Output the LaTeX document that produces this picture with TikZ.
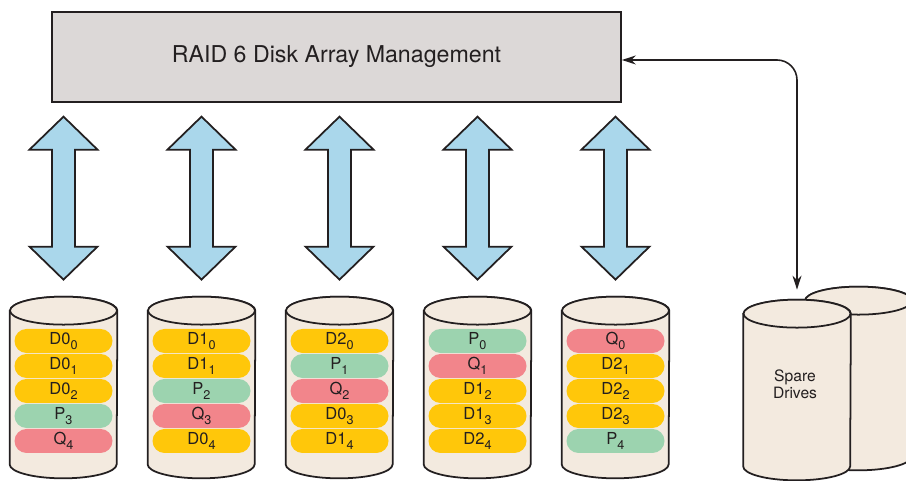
\documentclass[tikz,border=0pt]{standalone}
\usepackage{fontspec}
\setmainfont{TeX Gyre Heros}
\usetikzlibrary{positioning, calc, arrows.meta}

\definecolor{ink}{RGB}{35,31,32}
\definecolor{boxgray}{RGB}{220,216,215}
\definecolor{diskbeige}{RGB}{243,234,223}
\definecolor{busblue}{RGB}{170,215,235}
\definecolor{datayellow}{RGB}{255,199,10}
\definecolor{paritygreen}{RGB}{156,211,175}
\definecolor{parityred}{RGB}{242,133,139}

% strip index, set a little larger than \textsubscript
\newcommand{\stripidx}[1]{\raisebox{-0.5ex}{\fontsize{7.2}{8}\selectfont #1}}

\begin{document}
\begin{tikzpicture}[
            text=ink,
            % styles
            mgmt/.style={rectangle, draw=ink, line width=1pt, fill=boxgray, minimum width=11.38cm, minimum height=1.8cm, font=\fontsize{13.2}{16}\selectfont},
            diskarea/.style={rectangle, minimum width=2.14cm, inner sep=0pt},
            disk/.style={draw=ink, line width=1pt, fill=diskbeige},
            block/.style={rectangle, rounded corners=0.24cm, minimum width=1.96cm, minimum height=0.48cm, inner sep=0pt, font=\fontsize{9.4}{10}\selectfont},
            dblock/.style={block, fill=datayellow},
            pblock/.style={block, fill=paritygreen},
            qblock/.style={block, fill=parityred},
            bus/.style={draw=ink, line width=1pt, fill=busblue, line join=miter},
            link/.style={draw=ink, line width=0.9pt, rounded corners=0.4cm, {Stealth[length=2.8mm,width=1.8mm]}-{Stealth[length=2.8mm,width=1.8mm]}}
        ]
        \useasboundingbox (0,0) rectangle (18.12,9.62);

        % array management
        \node (mgmt) [mgmt] at (6.73,8.48) {RAID 6 Disk Array Management};

        % disks and spare drives
        \node (d1) [diskarea, minimum height=3.06cm] at (1.27,1.87) {};
        \node (d2) [diskarea, minimum height=3.06cm] at (4.03,1.87) {};
        \node (d3) [diskarea, minimum height=3.06cm] at (6.79,1.87) {};
        \node (d4) [diskarea, minimum height=3.06cm] at (9.55,1.87) {};
        \node (d5) [diskarea, minimum height=3.06cm] at (12.31,1.87) {};
        \node (spareback) [diskarea, minimum height=3.10cm] at (17.17,2.05) {};
        \node (spare) [diskarea, minimum height=3.04cm] at (15.94,1.82) {};

        \foreach \n in {d1,d2,d3,d4,d5,spareback,spare} {
            \draw[disk] (\n.north west) -- (\n.south west)
                arc[start angle=180, end angle=360, x radius=1.07cm, y radius=0.28cm]
                -- (\n.north east)
                arc[start angle=0, end angle=180, x radius=1.07cm, y radius=0.28cm] -- cycle;
            \draw[disk] (\n.north) ellipse[x radius=1.07cm, y radius=0.28cm];
        }

        \node (sparelabel) [align=center, font=\fontsize{8.9}{9.7}\selectfont] at (15.9,1.94) {Spare\\Drives};

        % strips on each disk
        \foreach \s/\t [count=\r] in {dblock/D0\stripidx{0}, dblock/D0\stripidx{1}, dblock/D0\stripidx{2}, pblock/P\stripidx{3}, qblock/Q\stripidx{4}}
            \node (s1\r) [\s, below=0.36cm+0.5cm*(\r-1) of d1.north] {\t};
        \foreach \s/\t [count=\r] in {dblock/D1\stripidx{0}, dblock/D1\stripidx{1}, pblock/P\stripidx{2}, qblock/Q\stripidx{3}, dblock/D0\stripidx{4}}
            \node (s2\r) [\s, below=0.36cm+0.5cm*(\r-1) of d2.north] {\t};
        \foreach \s/\t [count=\r] in {dblock/D2\stripidx{0}, pblock/P\stripidx{1}, qblock/Q\stripidx{2}, dblock/D0\stripidx{3}, dblock/D1\stripidx{4}}
            \node (s3\r) [\s, below=0.36cm+0.5cm*(\r-1) of d3.north] {\t};
        \foreach \s/\t [count=\r] in {pblock/P\stripidx{0}, qblock/Q\stripidx{1}, dblock/D1\stripidx{2}, dblock/D1\stripidx{3}, dblock/D2\stripidx{4}}
            \node (s4\r) [\s, below=0.36cm+0.5cm*(\r-1) of d4.north] {\t};
        \foreach \s/\t [count=\r] in {qblock/Q\stripidx{0}, dblock/D2\stripidx{1}, dblock/D2\stripidx{2}, dblock/D2\stripidx{3}, pblock/P\stripidx{4}}
            \node (s5\r) [\s, below=0.36cm+0.5cm*(\r-1) of d5.north] {\t};

        % two-way buses between management and disks
        \foreach \i in {1,...,5}
            \draw[bus] ($(d\i.north)+(0,0.62)$) -- ++(0.68,0.66) -- ++(-0.45,0) -- ++(0,1.94)
                -- ++(0.45,0) -- ++(-0.68,0.66) -- ++(-0.68,-0.66) -- ++(0.45,0)
                -- ++(0,-1.94) -- ++(-0.45,0) -- cycle;

        % link to the spare drives
        \coordinate (sparetop) at ($(spare.north)+(0,0.48)$);
        \draw[link] (sparetop) |- ([yshift=-0.06cm]mgmt.east);

        \end{tikzpicture}
\end{document}
